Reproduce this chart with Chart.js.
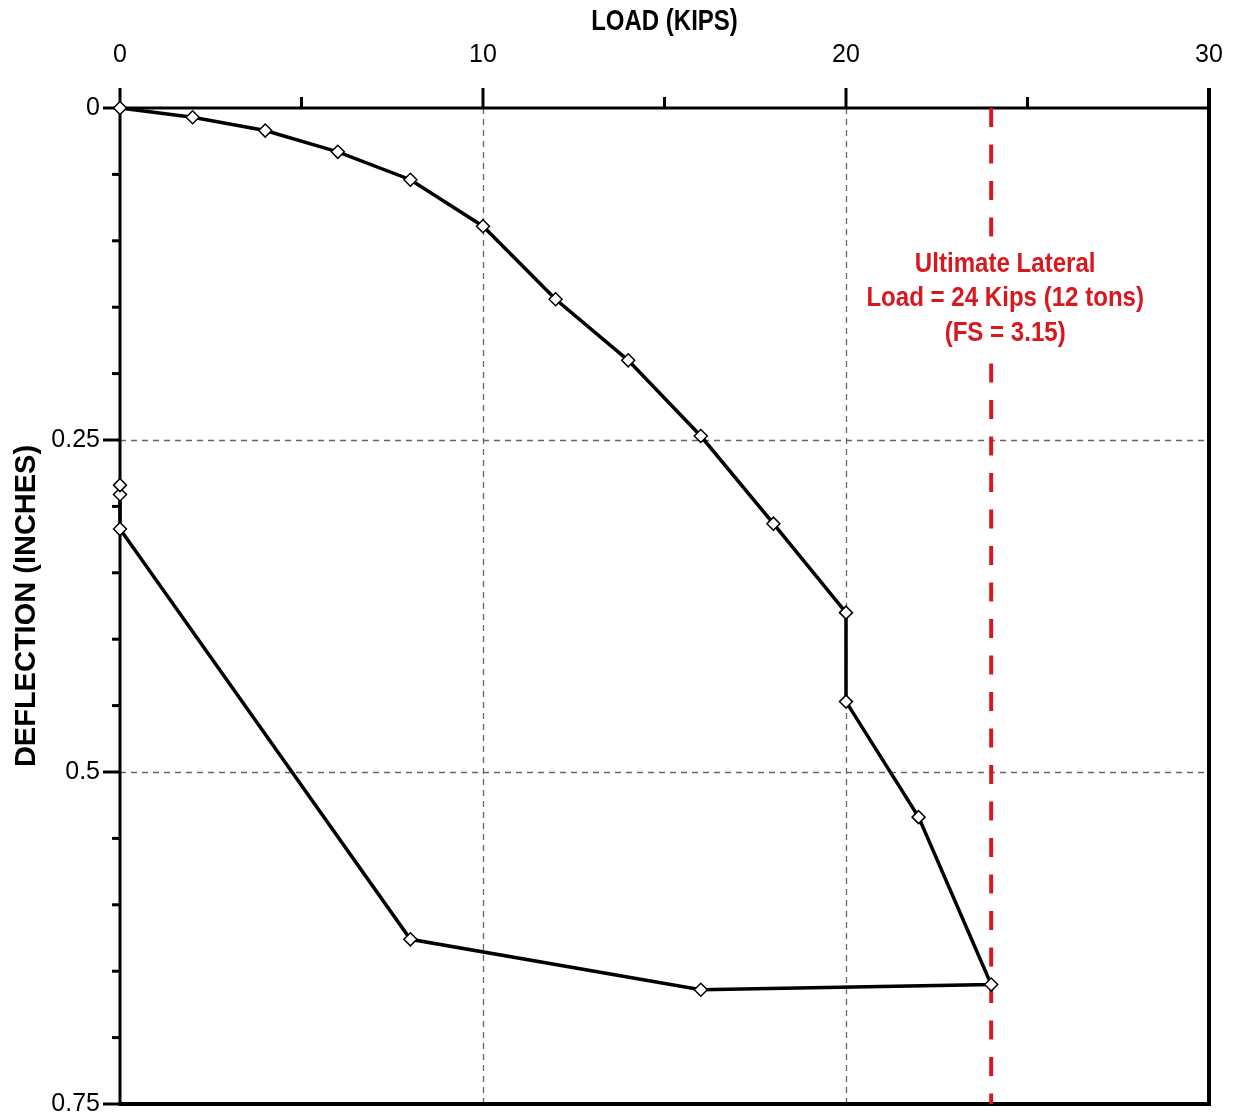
<!DOCTYPE html>
<html>
<head>
<meta charset="utf-8">
<script src="https://cdn.jsdelivr.net/npm/chart.js@4"></script>
<style>
  html, body { margin: 0; padding: 0; background: #fff; }
  #wrap { width: 1238px; height: 1120px; position: relative; }
</style>
</head>
<body>
<div id="wrap"><canvas id="c"></canvas></div>
<script>
// ---- data ----
const loadKips     = [0, 2, 4, 6, 8, 10, 12, 14, 16, 18, 20, 20, 22, 24, 16, 8, 0, 0, 0];
const deflectionIn = [0, 0.007, 0.017, 0.033, 0.054, 0.089, 0.144, 0.19, 0.247, 0.313, 0.38, 0.447, 0.534, 0.66, 0.664, 0.626, 0.317, 0.291, 0.284];
const ultimateLoad = 24;
const ultimateSpan = [0, 0.75];
const xMajorTicks = [0, 10, 20, 30];
const xTickLabels = ['0', '10', '20', '30'];
const xMinorTicks = [5, 15, 25];
const yMajorTicks = [0, 0.25, 0.5, 0.75];
const yTickLabels = ['0', '0.25', '0.5', '0.75'];
const yMinorTicks = [0.05, 0.1, 0.15, 0.2, 0.3, 0.35, 0.4, 0.45, 0.55, 0.6, 0.65, 0.7];
const annotationLines = ['Ultimate Lateral', 'Load = 24 Kips (12 tons)', '(FS = 3.15)'];
const xTitle = 'LOAD (KIPS)';
const yTitle = 'DEFLECTION (INCHES)';

const FONT = "'Liberation Sans', Arial, sans-serif";
const RED = '#d8181f';

function condensedText(ctx, text, x, y, sx) {
  ctx.save();
  ctx.translate(x, y);
  ctx.scale(sx, 1);
  ctx.fillText(text, 0, 0);
  ctx.restore();
}

const axesPlugin = {
  id: 'axesDraw',
  beforeDatasetsDraw(chart) {
    const { ctx, chartArea: a, scales: { x, y } } = chart;
    ctx.save();
    // dashed grid at interior major ticks
    ctx.strokeStyle = '#666';
    ctx.lineWidth = 1.3;
    ctx.setLineDash([6, 5]);
    xMajorTicks.slice(1, -1).forEach(v => {
      const px = Math.round(x.getPixelForValue(v)) + 0.5;
      ctx.beginPath(); ctx.moveTo(px, a.top); ctx.lineTo(px, a.bottom); ctx.stroke();
    });
    yMajorTicks.slice(1, -1).forEach(v => {
      const py = Math.round(y.getPixelForValue(v)) + 0.5;
      ctx.beginPath(); ctx.moveTo(a.left, py); ctx.lineTo(a.right, py); ctx.stroke();
    });
    ctx.setLineDash([]);
    ctx.strokeStyle = '#000';
    // x ticks (top, pointing up)
    ctx.lineWidth = 3;
    xMajorTicks.forEach(v => {
      const px = x.getPixelForValue(v);
      ctx.beginPath(); ctx.moveTo(px, a.top); ctx.lineTo(px, a.top - 20); ctx.stroke();
    });
    xMinorTicks.forEach(v => {
      const px = x.getPixelForValue(v);
      ctx.beginPath(); ctx.moveTo(px, a.top); ctx.lineTo(px, a.top - 11); ctx.stroke();
    });
    // y ticks (left, pointing left)
    yMajorTicks.forEach(v => {
      const py = y.getPixelForValue(v);
      ctx.beginPath(); ctx.moveTo(a.left, py); ctx.lineTo(a.left - 17, py); ctx.stroke();
    });
    yMinorTicks.forEach(v => {
      const py = y.getPixelForValue(v);
      ctx.beginPath(); ctx.moveTo(a.left, py); ctx.lineTo(a.left - 8, py); ctx.stroke();
    });
    // axis lines
    ctx.lineWidth = 3;
    ctx.beginPath(); ctx.moveTo(a.left - 1, a.top); ctx.lineTo(a.right + 2, a.top); ctx.stroke();
    ctx.beginPath(); ctx.moveTo(a.left, a.top); ctx.lineTo(a.left, a.bottom + 2); ctx.stroke();
    ctx.lineWidth = 4;
    ctx.beginPath(); ctx.moveTo(a.right, a.top - 20); ctx.lineTo(a.right, a.bottom + 2); ctx.stroke();
    ctx.beginPath(); ctx.moveTo(a.left, a.bottom); ctx.lineTo(a.right + 2, a.bottom); ctx.stroke();
    ctx.restore();
  },
  afterDraw(chart) {
    const { ctx, chartArea: a, scales: { x, y } } = chart;
    ctx.save();
    // x axis title (condensed bold)
    ctx.fillStyle = '#000';
    ctx.font = "bold 30px " + FONT;
    ctx.textAlign = 'center';
    ctx.textBaseline = 'middle';
    condensedText(ctx, xTitle, (a.left + a.right) / 2, 22, 0.8);

    // annotation block with white background over the red line
    const cx = x.getPixelForValue(ultimateLoad) + 14;
    const y0 = y.getPixelForValue(0) + 156;
    ctx.fillStyle = '#fff';
    ctx.fillRect(cx - 145, y0 - 20, 290, 112);
    ctx.fillStyle = RED;
    ctx.font = "bold 28px " + FONT;
    annotationLines.forEach((t, i) => condensedText(ctx, t, cx, y0 + i * 34.5, 0.86));
    ctx.restore();
  }
};

new Chart(document.getElementById('c'), {
  type: 'scatter',
  data: {
    datasets: [
      {
        label: 'Load test',
        data: loadKips.map((v, i) => ({ x: v, y: deflectionIn[i] })),
        showLine: true,
        borderColor: '#000',
        borderWidth: 3.5,
        pointStyle: 'rectRot',
        pointRadius: 6.5,
        pointBackgroundColor: '#fff',
        pointBorderColor: '#000',
        pointBorderWidth: 1.5,
        tension: 0,
        clip: false,
        order: 1
      },
      {
        label: 'Ultimate',
        data: ultimateSpan.map(v => ({ x: ultimateLoad, y: v })),
        showLine: true,
        borderColor: RED,
        borderWidth: 4,
        borderDash: [19, 17.5],
        pointRadius: 0,
        clip: false,
        order: 2
      }
    ]
  },
  options: {
    responsive: true,
    maintainAspectRatio: false,
    animation: false,
    events: [],
    layout: { padding: { left: 0, right: 29, top: 0, bottom: 16 } },
    plugins: { legend: { display: false }, tooltip: { enabled: false } },
    scales: {
      x: {
        type: 'linear',
        position: 'top',
        min: 0, max: 30,
        afterBuildTicks: s => { s.ticks = xMajorTicks.map(v => ({ value: v })); },
        afterFit: s => { s.height = 108; s.paddingLeft = 0; s.paddingRight = 0; },
        grid: { display: false, drawTicks: false },
        border: { display: false },
        ticks: { color: '#000', padding: 38, font: { family: FONT, size: 25 },
                 callback: (v, i) => xTickLabels[i] },
        title: { display: false, text: xTitle }
      },
      y: {
        type: 'linear',
        reverse: true,
        min: 0, max: 0.75,
        afterBuildTicks: s => { s.ticks = yMajorTicks.map(v => ({ value: v })); },
        afterFit: s => { s.width = 120; s.paddingTop = 0; s.paddingBottom = 0; },
        grid: { display: false, drawTicks: false },
        border: { display: false },
        ticks: { color: '#000', padding: 20, font: { family: FONT, size: 25 },
                 callback: (v, i) => yTickLabels[i] },
        title: { display: true, text: yTitle, color: '#000', padding: { top: 10, bottom: 0 },
                 font: { family: FONT, size: 29, weight: 'bold' } }
      }
    }
  },
  plugins: [axesPlugin]
});
</script>
</body>
</html>
